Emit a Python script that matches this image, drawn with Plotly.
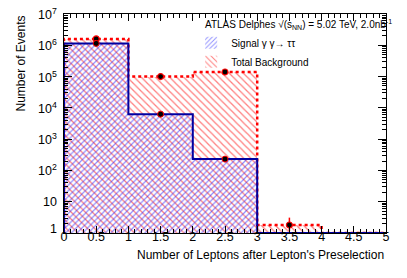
import math
import plotly.graph_objects as go

# ---- data ----
bin_edges = [0, 1, 2, 3, 4, 5]
bin_centers = [0.5, 1.5, 2.5, 3.5, 4.5]
background = [1.6e6, 1.0e5, 1.4e5, 1.8, 0]
signal = [1.15e6, 6.3e3, 230, 0, 0]
bkg_err_up = [0, 0, 0, 1.3, 0]
bkg_err_down = [0, 0, 0, 0.65, 0]
y_tickvals = [1, 10, 1e2, 1e3, 1e4, 1e5, 1e6, 1e7]
y_ticktext = ["1", "10", "10<sup>2</sup>", "10<sup>3</sup>", "10<sup>4</sup>",
              "10<sup>5</sup>", "10<sup>6</sup>", "10<sup>7</sup>"]
x_tickvals = [0, 0.5, 1, 1.5, 2, 2.5, 3, 3.5, 4, 4.5, 5]
x_ticktext = ["0", "0.5", "1", "1.5", "2", "2.5", "3", "3.5", "4", "4.5", "5"]

FONT = "Liberation Sans, Arial, sans-serif"
RED = "#ff0000"
BLUE = "#2020ff"
NAVY = "#0000a0"
YMIN = 1.0


def step_xy(vals):
    xs = [bin_edges[0]] + bin_edges[:-1] + [bin_edges[-1], bin_edges[-1]]
    v = [max(a, YMIN) for a in vals]
    ys = [YMIN] + v + [v[-1], YMIN]
    return xs, ys


fig = go.Figure()

fig.add_trace(go.Bar(
    x=bin_centers, y=background, width=1.0,
    name="Total Background",
    marker=dict(color="rgba(0,0,0,0)", line=dict(width=0),
                pattern=dict(shape="\\", fgcolor=RED, bgcolor="rgba(0,0,0,0)",
                             size=5, solidity=0.25)),
))
fig.add_trace(go.Bar(
    x=bin_centers, y=signal, width=1.0,
    name="Signal γ γ→ ττ",
    marker=dict(color="rgba(0,0,0,0)", line=dict(width=0),
                pattern=dict(shape="/", fgcolor=BLUE, bgcolor="rgba(0,0,0,0)",
                             size=4, solidity=0.3)),
))

bx, by = step_xy(background)
fig.add_trace(go.Scatter(x=bx, y=by, mode="lines", line_shape="hv",
                         line=dict(color=RED, width=2.5, dash="dot"),
                         showlegend=False, hoverinfo="skip"))
sx, sy = step_xy(signal)
fig.add_trace(go.Scatter(x=sx, y=sy, mode="lines", line_shape="hv",
                         line=dict(color=NAVY, width=2),
                         showlegend=False, hoverinfo="skip"))

fig.add_trace(go.Scatter(
    x=bin_centers[:4], y=background[:4], mode="markers",
    marker=dict(color="black", size=6, line=dict(color=RED, width=1.2)),
    error_y=dict(type="data", array=bkg_err_up[:4], arrayminus=bkg_err_down[:4],
                 color=RED, thickness=1.5, width=0),
    showlegend=False, hoverinfo="skip"))
fig.add_trace(go.Scatter(
    x=bin_centers[:3], y=signal[:3], mode="markers",
    marker=dict(color="black", size=6, line=dict(color=RED, width=1.0)),
    showlegend=False, hoverinfo="skip"))

fig.update_layout(
    width=399, height=270,
    margin=dict(l=56, r=21, t=6, b=45),
    paper_bgcolor="white", plot_bgcolor="white",
    barmode="overlay", bargap=0,
    font=dict(family=FONT, size=12, color="black"),
    legend=dict(
        x=0.395, y=0.935, xanchor="left", yanchor="top",
        bgcolor="rgba(0,0,0,0)", font=dict(size=10),
        traceorder="reversed", tracegroupgap=0,
    ),
    showlegend=True,
)

fig.update_xaxes(
    range=[0, 5], tickvals=x_tickvals, ticktext=x_ticktext,
    showgrid=False, zeroline=False, showline=True, linecolor="black", linewidth=1,
    mirror="allticks", ticks="inside", ticklen=7, tickcolor="black",
    minor=dict(ticks="inside", ticklen=4, dtick=0.1, tickcolor="black", showgrid=False),
    tickfont=dict(size=12.5), ticklabelstandoff=-8,
)
fig.update_yaxes(
    type="log", range=[0, 7], tickvals=y_tickvals, showticklabels=False,
    showgrid=False, zeroline=False, showline=True, linecolor="black", linewidth=1,
    mirror="allticks", ticks="inside", ticklen=8, tickcolor="black",
    minor=dict(ticks="inside", ticklen=4, dtick="D1", tickcolor="black", showgrid=False),
)

# y tick labels placed at the axis' tick values
for v, t in zip(y_tickvals, y_ticktext):
    fig.add_annotation(text=t, xref="paper", yref="y", x=0, y=math.log10(v),
                       xanchor="right", yanchor="middle", xshift=-5,
                       yshift=(4 if v == 1 else 0),
                       showarrow=False, font=dict(size=12.5))

fig.add_annotation(text="ATLAS Delphes √(s<sub>NN</sub>) = 5.02 TeV, 2.0nb<sup>-1</sup>",
                   xref="paper", yref="paper", x=0.432, y=0.95,
                   xanchor="left", yanchor="middle", showarrow=False,
                   font=dict(size=10))
fig.add_annotation(text="Number of Events", xref="paper", yref="paper",
                   x=-0.135, y=1.0, xanchor="center", yanchor="top",
                   textangle=-90, showarrow=False, font=dict(size=12))
fig.add_annotation(text="Number of Leptons after Lepton's Preselection",
                   xref="paper", yref="paper", x=1.0, y=-0.1,
                   xanchor="right", yanchor="middle", showarrow=False,
                   font=dict(size=12))

fig.write_html("out.html")
